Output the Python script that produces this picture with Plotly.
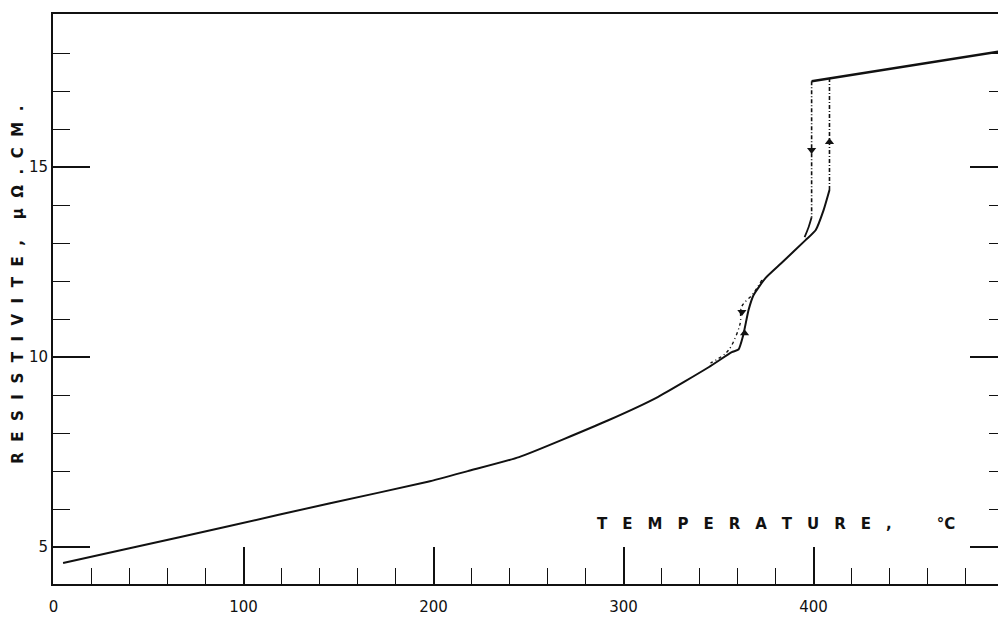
import plotly.graph_objects as go

# Heating branch (solid)
heat_T = [5, 40, 92, 145, 197, 218, 245, 292, 318, 345, 357, 360.5, 363, 365.8, 368.4, 374.7, 383, 395.8, 401.1, 405.3, 408.4]
heat_R = [4.58, 4.97, 5.55, 6.15, 6.72, 7.0, 7.37, 8.34, 8.95, 9.74, 10.13, 10.2, 10.58, 11.24, 11.63, 12.08, 12.47, 13.08, 13.34, 13.87, 14.4]

# Heating jump (dash-dot)
heat_jump_T = [408.4, 408.4]
heat_jump_R = [14.4, 17.33]

# High-temperature branch (solid)
high_T = [399, 500]
high_R = [17.26, 18.06]

# Cooling jump (dash-dot) and its solid end
cool_jump_T = [399, 399]
cool_jump_R = [17.26, 13.68]
cool_end_T = [399, 397.4, 395.3]
cool_end_R = [13.68, 13.42, 13.16]

# Cooling branch near 360 C (dash-dot)
cool_low_T = [372.8, 368.4, 362.1, 361.4, 356.8, 353.7, 345.8]
cool_low_R = [12.03, 11.68, 11.32, 10.89, 10.3, 10.1, 9.84]

# Direction arrows
down_T = [399, 362.3]
down_R = [15.45, 11.19]
up_T = [408.4, 363.7]
up_R = [15.66, 10.63]

x_ticks = [0, 100, 200, 300, 400]
x_minor = [20, 40, 60, 80, 120, 140, 160, 180, 220, 240, 260, 280, 320, 340, 360, 380, 420, 440, 460, 480]
y_ticks = [5, 10, 15]
y_minor = [6, 7, 8, 9, 11, 12, 13, 14, 16, 17, 18]

BLACK = "#111111"
fig = go.Figure()

fig.add_trace(go.Scatter(x=heat_T, y=heat_R, mode="lines",
                         line=dict(color=BLACK, width=2, shape="spline", smoothing=0.5)))
fig.add_trace(go.Scatter(x=heat_jump_T, y=heat_jump_R, mode="lines",
                         line=dict(color=BLACK, width=1.6, dash="4px,2px,1px,2px")))
fig.add_trace(go.Scatter(x=high_T, y=high_R, mode="lines",
                         line=dict(color=BLACK, width=2.4)))
fig.add_trace(go.Scatter(x=cool_jump_T, y=cool_jump_R, mode="lines",
                         line=dict(color=BLACK, width=1.6, dash="4px,2px,1px,2px")))
fig.add_trace(go.Scatter(x=cool_end_T, y=cool_end_R, mode="lines",
                         line=dict(color=BLACK, width=1.8, shape="spline")))
fig.add_trace(go.Scatter(x=cool_low_T, y=cool_low_R, mode="lines",
                         line=dict(color=BLACK, width=1.4, dash="3px,3px,1px,3px", shape="spline")))
fig.add_trace(go.Scatter(x=down_T, y=down_R, mode="markers",
                         marker=dict(symbol="triangle-down", size=8, color=BLACK)))
fig.add_trace(go.Scatter(x=up_T, y=up_R, mode="markers",
                         marker=dict(symbol="triangle-up", size=8, color=BLACK)))
# right-side tick axis carrier
fig.add_trace(go.Scatter(x=[None], y=[None], yaxis="y2", showlegend=False))

tickfont = dict(family="DejaVu Sans", size=15, color=BLACK)

fig.update_layout(
    width=998, height=624,
    margin=dict(l=53, r=0, t=14, b=40, autoexpand=False),
    paper_bgcolor="white", plot_bgcolor="white",
    showlegend=False,
    xaxis=dict(range=[-0.3, 497.1], tickvals=x_ticks, ticktext=[str(v) for v in x_ticks],
               ticks="inside", ticklen=37, tickwidth=1.5, tickcolor=BLACK,
               minor=dict(tickvals=x_minor, ticks="inside", ticklen=16, tickwidth=1.3, tickcolor=BLACK),
               showline=True, linewidth=2, linecolor=BLACK, mirror=True, automargin=False,
               showgrid=False, zeroline=False, tickfont=tickfont, ticklabelstandoff=8),
    yaxis=dict(range=[4.03, 19.03], tickvals=y_ticks, ticktext=[str(v) for v in y_ticks],
               ticks="inside", ticklen=37, tickwidth=1.5, tickcolor=BLACK,
               minor=dict(tickvals=y_minor, ticks="inside", ticklen=17, tickwidth=1.3, tickcolor=BLACK),
               showline=True, linewidth=2, linecolor=BLACK, mirror=False, automargin=False,
               showgrid=False, zeroline=False, tickfont=tickfont, ticklabelstandoff=0),
    yaxis2=dict(range=[4.03, 19.03], overlaying="y", side="right", tickvals=y_ticks,
                showticklabels=False, ticks="inside", ticklen=28, tickwidth=1.5, tickcolor=BLACK,
                minor=dict(tickvals=y_minor, ticks="inside", ticklen=9, tickwidth=1.3, tickcolor=BLACK),
                showline=False, showgrid=False, zeroline=False, automargin=False),
)

sp_y = "\u2002\u2009"
sp_x = "\u2003"
ytitle = sp_y.join(list("RESISTIVITE,")) + sp_y + sp_y + sp_y.join(list("µΩ.CM."))
xtitle = sp_x.join(list("TEMPERATURE,")) + sp_x + sp_x + sp_x + "°C"

fig.add_annotation(text=ytitle, xref="paper", yref="paper", x=-0.037, y=0.525,
                   textangle=-90, showarrow=False, xanchor="center", yanchor="middle",
                   font=dict(family="DejaVu Sans", size=15, color=BLACK, weight="bold"))
fig.add_annotation(text=xtitle, xref="paper", yref="paper", x=0.765, y=0.105,
                   showarrow=False, xanchor="center", yanchor="middle",
                   font=dict(family="DejaVu Sans", size=15, color=BLACK, weight="bold"))

fig.write_html("out.html", config={"displayModeBar": False},
               post_script="document.body.style.margin='0';document.body.style.overflow='hidden';")
